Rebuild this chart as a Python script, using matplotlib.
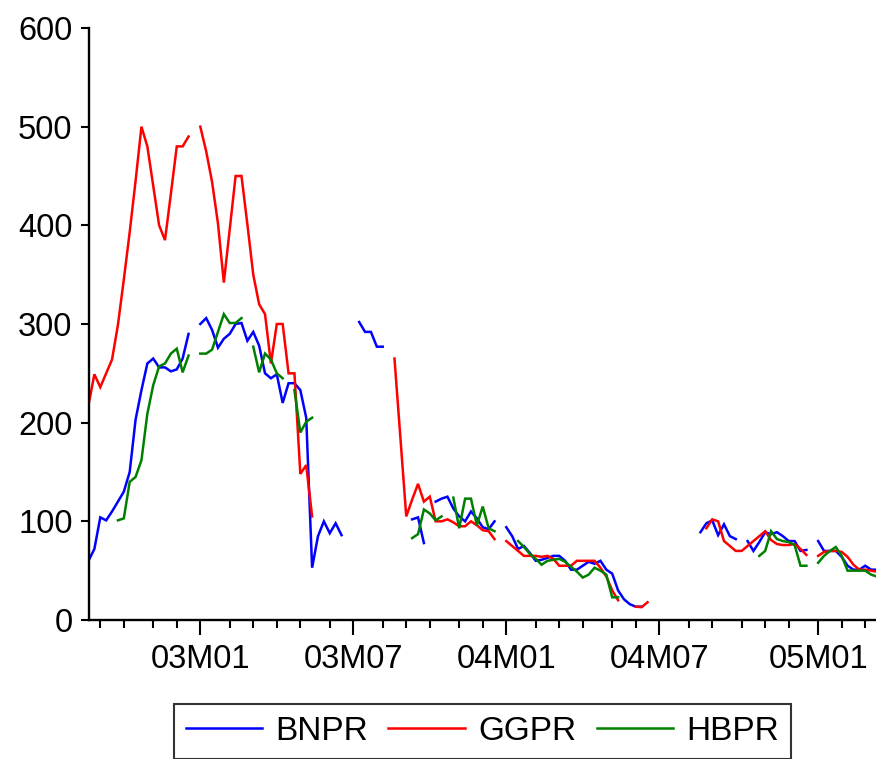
import numpy as np
import pandas as pd
import matplotlib
matplotlib.use("Agg")
import matplotlib.pyplot as plt

nan = np.nan

# Weekly observations (Thursdays), 2002-08-22 .. 2005-03-24
start_date = "2002-08-22"
n_obs = 135

bnpr = [60, 72, 104, 101, 110, 120, 130, 150, 203, 233,
        260, 265, 256, 256, 252, 254, 265, 290, nan, 300,
        306, 294, 276, 285, 290, 300, 301, 283, 292, 278,
        250, 245, 249, 220, 240, 240, 233, 205, 53, 85,
        100, 88, 98, 86, nan, nan, 302, 292, 292, 277,
        277, nan, nan, nan, nan, 102, 104, 78, nan, 120,
        123, 125, 113, 105, 100, 110, 103, 94, 92, 100,
        nan, 94, 85, 72, 75, 68, 60, 61, 63, 65,
        65, 60, 51, 51, 55, 59, 57, 60, 51, 47,
        30, 21, 16, 13.5, 13.5, nan, nan, nan, nan, nan,
        nan, nan, nan, nan, 89, 98, 101, 86, 97, 85,
        82, nan, 80, 70, 79, 89, 87, 89, 85, 80,
        80, 70, 71, nan, 80, 70, 70, 70, 64, 55,
        51, 51, 55, 51, 51]

ggpr = [218, 249, 236, 250, 264, 299, 345, 393, 445, 500,
        480, 440, 400, 385, 432, 480, 480, 490, nan, 500,
        475, 444, 402, 342, 396, 450, 450, 401, 350, 320,
        310, 260, 300, 300, 250, 250, 148, 157, 105, nan,
        nan, nan, nan, nan, nan, nan, nan, nan, nan, nan,
        nan, nan, 265, 185, 105, 122, 138, 120, 125, 100,
        100, 102, 99, 95, 95, 100, 96, 91, 90, 82,
        nan, 80, 75, 70, 65, 65, 65, 64, 65, 62,
        55, 55, 55, 60, 60, 60, 60, 53, 44, 30,
        20, nan, nan, 13.5, 13, 18, nan, nan, nan, nan,
        nan, nan, nan, nan, nan, 93, 102, 100, 80, 75,
        70, 70, 75, 80, 85, 90, 81, 77, 76, 76,
        77, 72, 66, nan, 65, 69, 70, 70, 69, 64,
        56, 51, 51, 50, 49]

hbpr = [nan, nan, nan, nan, nan, 101, 103, 140, 145, 162,
        209, 238, 257, 260, 270, 275, 251, 268, nan, 270,
        270, 274, 292, 310, 301, 301, 306, nan, 277, 251,
        270, 264, 250, 245, nan, 233, 190, 201, 205, nan,
        nan, nan, nan, nan, nan, nan, nan, nan, nan, nan,
        nan, nan, nan, nan, nan, 83, 87, 112, 108, 101,
        105, nan, 124, 93, 123, 123, 96, 115, 93, 90,
        nan, nan, nan, 80, 74, 67, 62, 56, 60, 61,
        62, 59, 54, 49, 43, 46, 53, 50, 46, 23,
        23, nan, nan, nan, nan, nan, nan, nan, nan, nan,
        nan, nan, nan, nan, nan, nan, nan, nan, nan, nan,
        nan, nan, nan, nan, 65, 70, 90, 82, 80, 79,
        76, 55, 55, nan, 58, 65, 70, 74, 65, 50,
        50, 50, 50, 46, 44]

series_names = ["BNPR", "GGPR", "HBPR"]
series_colors = ["#0000FF", "#FF0000", "#008000"]
y_ticks = [0, 100, 200, 300, 400, 500, 600]

dates = pd.date_range(start_date, periods=n_obs, freq="7D")
idx = np.arange(n_obs)

# month starts -> ticks
month_first = [i for i in range(1, n_obs) if dates[i].month != dates[i - 1].month]
major = [i for i in month_first if dates[i].month in (1, 7)]
minor = [i for i in month_first if dates[i].month not in (1, 7)]
major_labels = [f"{dates[i].year % 100:02d}M{dates[i].month:02d}" for i in major]

plt.rcParams["font.family"] = ["Liberation Sans", "DejaVu Sans"]

W, H = 876, 759
fig = plt.figure(figsize=(W / 100, H / 100), dpi=100)
ax = fig.add_axes([88.5 / W, 1 - 620 / H, (877 - 88.5) / W, (620 - 28) / H])

for vals, name, col in zip([bnpr, ggpr, hbpr], series_names, series_colors):
    ax.plot(idx, np.array(vals, dtype=float), color=col, lw=1.8, label=name,
            solid_joinstyle="miter")

ax.set_xlim(0, n_obs - 1)
ax.set_ylim(0, 600)
ax.set_yticks(y_ticks)
ax.set_xticks(major)
ax.set_xticklabels(major_labels)
ax.set_xticks(minor, minor=True)

for s in ["top", "right"]:
    ax.spines[s].set_visible(False)
for s in ["left", "bottom"]:
    ax.spines[s].set_linewidth(1.7)
    ax.spines[s].set_color("black")

ax.tick_params(axis="y", which="major", direction="out", length=5.5, width=1.5,
               labelsize=23.5, pad=6)
ax.tick_params(axis="x", which="major", direction="out", length=10.5, width=1.5,
               labelsize=23.5, pad=7)
ax.tick_params(axis="x", which="minor", direction="out", length=6, width=1.5)

leg = fig.legend(loc="center", bbox_to_anchor=(482.5 / W, 1 - 731.5 / H), ncol=3,
                 fontsize=24, frameon=True, fancybox=False, shadow=False,
                 handlelength=2.3, handletextpad=0.4, columnspacing=0.6,
                 borderpad=0.35, borderaxespad=0)
leg.get_frame().set_edgecolor("black")
leg.get_frame().set_linewidth(1.5)
for line in leg.get_lines():
    line.set_linewidth(1.8)

fig.savefig("out.png", dpi=100)
